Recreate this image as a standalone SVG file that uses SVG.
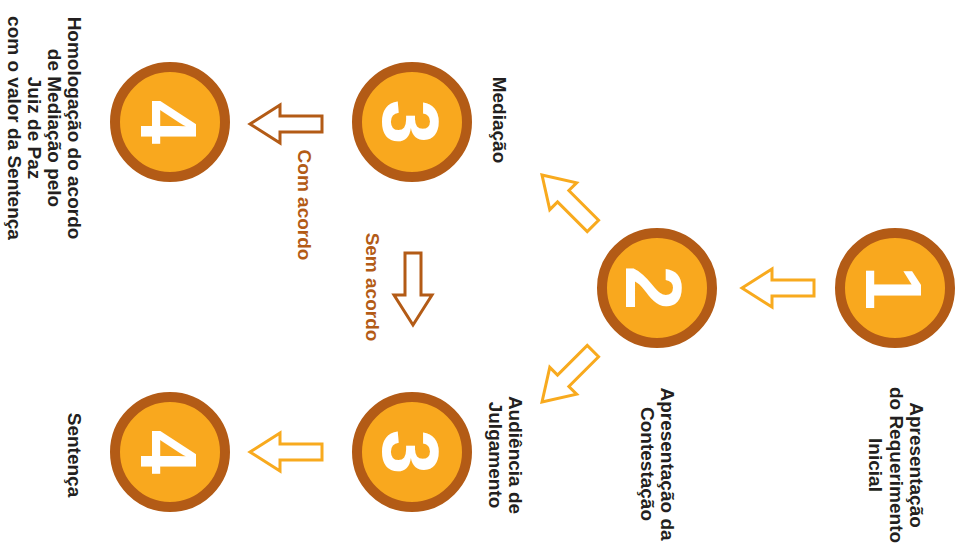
<svg xmlns="http://www.w3.org/2000/svg" width="961" height="545" viewBox="0 0 961 545">
<style>
.c{fill:#F9A81E;stroke:#B35B16;stroke-width:10}
.d{fill:#fff;font-family:"Liberation Sans",Arial,sans-serif;font-weight:bold;font-size:80px;text-anchor:middle}
.t{fill:#231F20;font-family:"Liberation Sans",Arial,sans-serif;font-weight:bold;font-size:19px;text-anchor:middle}
.b{fill:#B35B16;font-family:"Liberation Sans",Arial,sans-serif;font-weight:bold;font-size:19px;text-anchor:middle}
.ao{fill:#fff;stroke:#F8AA1E;stroke-width:3;stroke-linejoin:miter}
.ab{fill:#fff;stroke:#B35B16;stroke-width:3;stroke-linejoin:miter}
</style>
<defs>
<path id="arr" d="M0,0 L30,-19 L30,-8 L72,-8 L72,8 L30,8 L30,19 Z"/>
</defs>
<rect width="961" height="545" fill="#fff"/>
<g id="connectors">
<use href="#arr" class="ao" transform="translate(742,288)"/>
<use href="#arr" class="ao" transform="translate(542,175) rotate(45)"/>
<use href="#arr" class="ao" transform="translate(542,402) rotate(-45)"/>
<use href="#arr" class="ab" transform="translate(250,124)"/>
<use href="#arr" class="ab" transform="translate(413,325) rotate(-90)"/>
<use href="#arr" class="ao" transform="translate(250,452)"/>
<text class="b" transform="translate(298,205) rotate(90)">Com acordo</text>
<text class="b" transform="translate(366,287) rotate(90)">Sem acordo</text>
</g>
<g id="n1">
<circle class="c" cx="895" cy="288" r="55"/>
<text class="d" transform="translate(866,288) rotate(90)">1</text>
<text class="t" transform="translate(910,465) rotate(90)"><tspan x="0" y="0">Apresentação</tspan><tspan x="0" y="20.5">do Requerimento</tspan><tspan x="0" y="41">Inicial</tspan></text>
</g>
<g id="n2">
<circle class="c" cx="657" cy="288" r="55"/>
<text class="d" transform="translate(626,288) rotate(90)">2</text>
<text class="t" transform="translate(661,464) rotate(90)"><tspan x="0" y="0">Apresentação da</tspan><tspan x="0" y="20.5">Contestação</tspan></text>
</g>
<g id="n3a">
<circle class="c" cx="412" cy="122" r="55"/>
<text class="d" transform="translate(383,122) rotate(90)">3</text>
<text class="t" transform="translate(493,120) rotate(90)">Mediação</text>
</g>
<g id="n3b">
<circle class="c" cx="412" cy="452" r="55"/>
<text class="d" transform="translate(383,452) rotate(90)">3</text>
<text class="t" transform="translate(509,455) rotate(90)"><tspan x="0" y="0">Audiência de</tspan><tspan x="0" y="20.5">Julgamento</tspan></text>
</g>
<g id="n4a">
<circle class="c" cx="170" cy="122" r="55"/>
<text class="d" transform="translate(141,122) rotate(90)">4</text>
<text class="t" transform="translate(68,128) rotate(90)"><tspan x="0" y="0">Homologação do acordo</tspan><tspan x="0" y="20">de Mediação pelo</tspan><tspan x="0" y="40">Juiz de Paz</tspan><tspan x="0" y="60">com o valor da Sentença</tspan></text>
</g>
<g id="n4b">
<circle class="c" cx="170" cy="452" r="55"/>
<text class="d" transform="translate(141,452) rotate(90)">4</text>
<text class="t" transform="translate(68,455) rotate(90)">Sentença</text>
</g>
</svg>
